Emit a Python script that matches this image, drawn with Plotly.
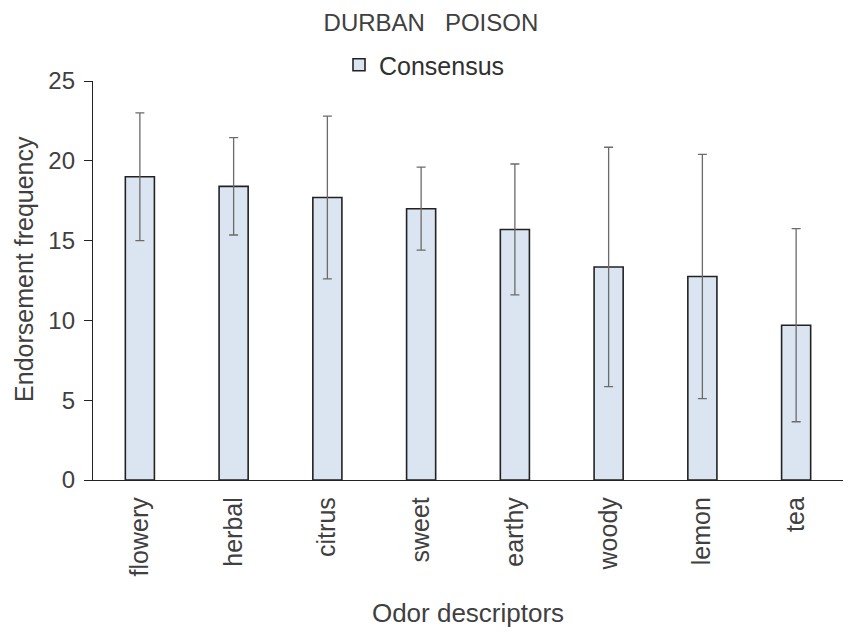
import plotly.graph_objects as go

categories = ["flowery", "herbal", "citrus", "sweet", "earthy", "woody", "lemon", "tea"]
consensus = [19.0, 18.4, 17.7, 17.0, 15.7, 13.35, 12.75, 9.7]
sd = [4.0, 3.05, 5.1, 2.6, 4.1, 7.5, 7.65, 6.05]
y_ticks = [0, 5, 10, 15, 20, 25]

FONT = "Liberation Sans, Arial, sans-serif"
TXT = "#404040"

fig = go.Figure()
fig.add_trace(go.Bar(
    x=categories, y=consensus, name="Consensus",
    width=0.31,
    marker=dict(color="#dae5f1", line=dict(color="#222222", width=1.6)),
    error_y=dict(type="data", array=sd, visible=True, color="#6b6b6b",
                 thickness=1.3, width=4.5),
))

fig.add_annotation(
    text="Endorsement frequency", textangle=-90,
    xref="paper", yref="paper", x=-0.092, y=0.529,
    xanchor="center", yanchor="middle", showarrow=False,
    font=dict(size=25, color=TXT),
)

fig.update_layout(
    width=851, height=635,
    margin=dict(l=85, r=16, t=73, b=163),
    paper_bgcolor="white", plot_bgcolor="white",
    font=dict(family=FONT, color=TXT),
    title=dict(text="DURBAN&nbsp;&nbsp;&nbsp;POISON", x=0.497, xanchor="center",
               y=0.977, yanchor="middle", font=dict(size=24, color=TXT),
               automargin=False),
    showlegend=True,
    legend=dict(orientation="h", x=0.442, xanchor="center", y=1.04, yanchor="middle",
                font=dict(size=25, color="#303030"), bgcolor="rgba(0,0,0,0)",
                itemwidth=30),
    xaxis=dict(
        automargin=False,
        showline=True, linecolor="#222222", linewidth=1.4,
        ticks="outside", ticklen=6, tickcolor="rgba(0,0,0,0)",
        tickangle=-90, tickfont=dict(size=25, color=TXT),
        title=dict(text="Odor descriptors", font=dict(size=26, color=TXT), standoff=28),
        range=[-0.5, 7.5],
    ),
    yaxis=dict(
        automargin=False,
        range=[0, 25], tickvals=y_ticks, showgrid=False, zeroline=False,
        showline=True, linecolor="#222222", linewidth=1.4,
        ticks="outside", ticklen=8, tickcolor="#222222", tickwidth=1.4,
        ticklabelstandoff=4,
        tickfont=dict(size=24, color=TXT),
    ),
)

fig.write_html("out.html")
